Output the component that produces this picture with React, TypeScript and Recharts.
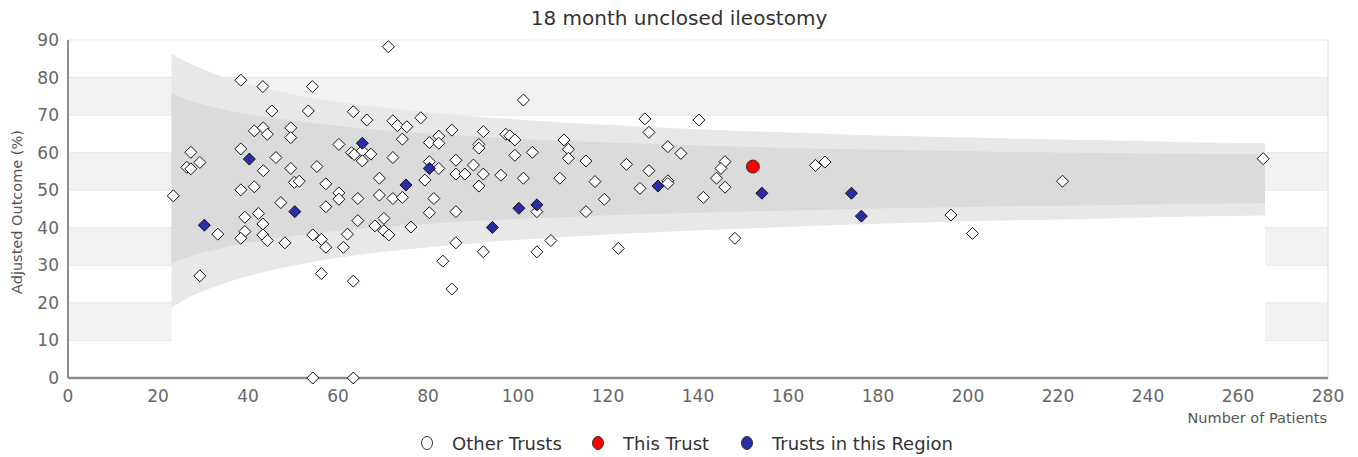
import React from 'react';
import { ComposedChart, Area, Scatter, XAxis, YAxis, CartesianGrid, ReferenceLine } from 'recharts';

const xTicks = [0, 20, 40, 60, 80, 100, 120, 140, 160, 180, 200, 220, 240, 260, 280];
const yTicks = [0, 10, 20, 30, 40, 50, 60, 70, 80, 90];

// funnel limits (number of patients -> outcome %)
const funnelN = [23, 25, 27, 30, 33, 36, 40, 45, 50, 55, 60, 70, 80, 90, 100, 115, 130, 150, 170, 190, 210, 230, 250, 266];
const outerLow = [18.8, 20.2, 21.5, 23.1, 24.5, 25.7, 27.1, 28.6, 29.9, 31.0, 32.0, 33.6, 34.8, 35.9, 36.8, 37.9, 38.8, 39.8, 40.7, 41.4, 42.0, 42.5, 43.0, 43.3];
const innerLow = [30.5, 31.5, 32.3, 33.4, 34.3, 35.1, 36.0, 37.0, 37.8, 38.5, 39.2, 40.3, 41.1, 41.8, 42.4, 43.1, 43.7, 44.3, 44.9, 45.3, 45.7, 46.0, 46.3, 46.5];
const innerHigh = [75.8, 74.8, 73.9, 72.8, 71.9, 71.1, 70.2, 69.3, 68.5, 67.8, 67.1, 66.0, 65.1, 64.4, 63.7, 62.9, 62.3, 61.6, 61.0, 60.6, 60.2, 59.9, 59.7, 59.6];
const outerHigh = [86.4, 85.0, 83.8, 82.2, 80.8, 79.6, 78.2, 76.8, 75.5, 74.4, 73.5, 72.0, 70.7, 69.7, 68.8, 67.7, 66.8, 65.8, 65.0, 64.3, 63.8, 63.3, 62.8, 62.5];

const otherTrusts: [number, number][] = [
  [71.2, 88.2], [38.4, 79.3], [43.3, 77.6], [54.3, 77.6], [45.3, 71.1], [53.4, 71.1], [63.4, 70.9],
  [66.4, 68.7], [72.2, 68.5], [73.2, 67.2], [75.3, 66.9], [78.4, 69.3], [85.3, 66.0], [41.4, 65.8],
  [43.4, 66.6], [44.3, 64.9], [49.5, 66.6], [49.5, 64.0], [74.3, 63.6], [80.3, 62.7], [82.4, 64.4],
  [82.4, 62.5], [60.2, 62.2], [63.0, 60.0], [63.6, 59.5], [65.4, 60.5], [67.3, 59.6], [65.4, 57.8],
  [27.3, 60.1], [26.4, 56.1], [27.3, 55.7], [29.3, 57.4], [38.4, 61.0], [46.2, 58.7], [43.4, 55.2],
  [49.5, 55.8], [55.3, 56.3], [50.3, 52.1], [51.4, 52.4], [38.4, 50.1], [41.4, 50.9], [23.4, 48.5],
  [47.3, 46.7], [57.3, 51.7], [60.2, 49.3], [60.2, 47.6], [64.4, 47.8], [69.2, 53.2], [69.2, 48.7],
  [72.2, 47.8], [74.3, 48.1], [80.3, 57.6], [82.4, 55.8], [86.2, 58.0], [86.2, 54.3], [79.3, 52.7],
  [81.3, 47.8], [80.3, 44.0], [86.2, 44.3], [72.2, 58.7], [57.3, 45.6], [64.4, 41.9], [39.3, 42.8],
  [42.3, 43.8], [43.3, 41.0], [76.2, 40.2], [33.3, 38.3], [39.3, 39.0], [38.4, 37.2], [43.3, 38.1],
  [44.3, 36.6], [48.2, 36.0], [54.4, 38.1], [56.3, 36.9], [57.3, 34.8], [61.2, 34.8], [62.1, 38.3],
  [68.2, 40.5], [70.2, 42.5], [70.2, 39.2], [71.3, 38.1], [86.2, 36.0], [83.3, 31.1], [85.3, 23.7],
  [29.3, 27.2], [56.3, 27.8], [63.4, 25.8], [54.4, 0], [63.4, 0],
  [101.2, 74.0], [128.2, 69.0], [140.2, 68.7], [92.3, 65.6], [97.3, 64.9], [98.2, 64.5], [99.3, 63.4],
  [91.3, 62.2], [91.3, 61.2], [88.2, 54.3], [90.1, 56.7], [92.3, 54.3], [96.2, 54.0], [91.3, 51.1],
  [99.3, 59.3], [103.2, 60.1], [101.2, 53.2], [110.2, 63.4], [111.2, 60.9], [111.2, 58.5], [115.1, 57.8],
  [109.3, 53.2], [117.1, 52.3], [124.1, 56.9], [129.1, 65.4], [129.1, 55.2], [133.3, 61.6], [136.2, 59.8],
  [127.1, 50.5], [133.3, 52.5], [133.3, 51.8], [146.0, 57.6], [145.1, 55.8], [144.1, 53.2], [146.0, 50.8],
  [141.2, 48.1], [119.2, 47.6], [104.2, 44.3], [115.1, 44.3],
  [92.3, 33.6], [104.2, 33.6], [107.3, 36.6], [122.3, 34.5], [148.2, 37.2],
  [166.1, 56.6], [168.2, 57.5], [196.2, 43.4], [201.0, 38.5], [221.0, 52.4], [265.6, 58.4],
];

const regionTrusts: [number, number][] = [
  [40.3, 58.3], [65.4, 62.5], [75.1, 51.4], [80.3, 55.8], [50.4, 44.3], [30.3, 40.7], [131.1, 51.1],
  [100.2, 45.2], [104.2, 46.1], [94.3, 40.1], [154.2, 49.2], [174.1, 49.2], [176.3, 43.1],
];

const thisTrust: [number, number][] = [[152.2, 56.3]];

const funnel = funnelN.map((n, i) => ({
  n,
  oLo: outerLow[i],
  iLo: innerLow[i],
  iHi: innerHigh[i],
  oHi: outerHigh[i],
}));

const toPoints = (list: [number, number][]) => list.map(([n, v]) => ({ n, v }));

const FONT = '"DejaVu Sans", sans-serif';

const Diamond = ({ cx, cy, color }: any) => {
  if (cx == null || cy == null) return null;
  const r = 6;
  return (
    <polygon
      points={`${cx},${cy - r} ${cx + r},${cy} ${cx},${cy + r} ${cx - r},${cy}`}
      fill={color}
      stroke="#111"
      strokeWidth={1}
    />
  );
};

const Dot = ({ cx, cy }: any) => {
  if (cx == null || cy == null) return null;
  return <circle cx={cx} cy={cy} r={6.5} fill="#ff0000" stroke="#333" strokeWidth={1} />;
};

const LegendItem = ({ left, fill, label }: { left: number; fill: string; label: string }) => (
  <div style={{ position: 'absolute', left, top: 432, height: 22, display: 'flex', alignItems: 'center' }}>
    <svg width={14} height={16} style={{ marginRight: 18 }}>
      <ellipse cx={7} cy={8} rx={5.5} ry={6.5} fill={fill} stroke="#333" strokeWidth={1} />
    </svg>
    <span style={{ fontSize: 18, color: '#333', whiteSpace: 'nowrap' }}>{label}</span>
  </div>
);

const App: React.FC = () => {
  return (
    <div style={{ position: 'absolute', left: 0, top: 0, width: 1358, height: 457, fontFamily: FONT, background: '#fff' }}>
      <div style={{ position: 'absolute', left: 0, width: 1358, top: 7, textAlign: 'center', fontSize: 20, lineHeight: '22px', color: '#333' }}>
        18 month unclosed ileostomy
      </div>
      <ComposedChart width={1358} height={457} data={funnel} margin={{ top: 40, right: 30, bottom: 39, left: 0 }}>
        <CartesianGrid vertical={false} stroke="#e6e6e6" horizontalFill={['#ffffff', '#f2f2f2']} />
        <XAxis
          type="number"
          dataKey="n"
          domain={[0, 280]}
          ticks={xTicks}
          interval={0}
          height={40}
          tickSize={0}
          tickMargin={12}
          axisLine={{ stroke: '#8c8c8c', strokeWidth: 2.5 }}
          tick={{ fill: '#666', fontSize: 17, fontFamily: FONT }}
        />
        <YAxis
          type="number"
          dataKey="v"
          domain={[0, 90]}
          ticks={yTicks}
          interval={0}
          width={68}
          tickSize={0}
          tickMargin={9}
          axisLine={{ stroke: '#8c8c8c', strokeWidth: 2 }}
          tick={{ fill: '#666', fontSize: 17, fontFamily: FONT }}
        />
        <ReferenceLine x={280} stroke="#dedede" />
        <Area type="monotone" dataKey={(d: any) => [0, d.oLo]} fill="#ffffff" fillOpacity={1} stroke="none" isAnimationActive={false} />
        <Area type="monotone" dataKey={(d: any) => [d.oLo, d.oHi]} fill="#e8e8e8" fillOpacity={1} stroke="none" isAnimationActive={false} />
        <Area type="monotone" dataKey={(d: any) => [d.iLo, d.iHi]} fill="#dbdbdb" fillOpacity={1} stroke="none" isAnimationActive={false} />
        <Scatter data={toPoints(otherTrusts)} dataKey="v" shape={(p: any) => <Diamond {...p} color="#ffffff" />} isAnimationActive={false} />
        <Scatter data={toPoints(regionTrusts)} dataKey="v" shape={(p: any) => <Diamond {...p} color="#2c2ca6" />} isAnimationActive={false} />
        <Scatter data={toPoints(thisTrust)} dataKey="v" shape={(p: any) => <Dot {...p} />} isAnimationActive={false} />
      </ComposedChart>
      <div
        style={{
          position: 'absolute',
          left: 17,
          top: 212,
          transform: 'translate(-50%, -50%) rotate(-90deg)',
          fontSize: 14.5,
          color: '#555',
          whiteSpace: 'nowrap',
        }}
      >
        Adjusted Outcome (%)
      </div>
      <div style={{ position: 'absolute', right: 31, top: 409, fontSize: 14.5, lineHeight: '18px', color: '#555', whiteSpace: 'nowrap' }}>
        Number of Patients
      </div>
      <LegendItem left={420} fill="#ffffff" label="Other Trusts" />
      <LegendItem left={591} fill="#ff0000" label="This Trust" />
      <LegendItem left={740} fill="#2c2ca6" label="Trusts in this Region" />
    </div>
  );
};

export default App;
